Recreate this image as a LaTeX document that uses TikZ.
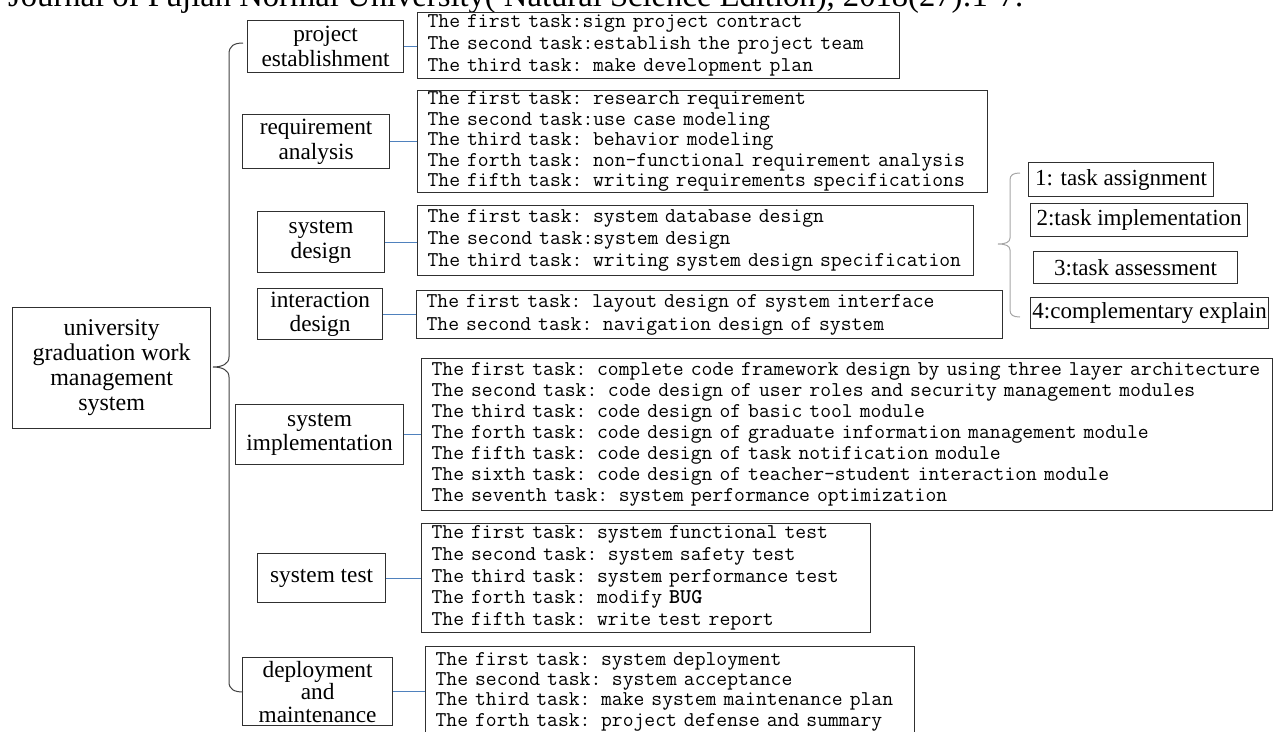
\documentclass[tikz,border=0pt]{standalone}
\usepackage{fontspec}
\setmainfont{Liberation Serif}
\definecolor{boxc}{HTML}{303030}
\definecolor{linkc}{HTML}{4F81BD}
\definecolor{bracec}{HTML}{404040}
\definecolor{sbracec}{HTML}{A6A6A6}
\tikzset{
  cat/.style={draw=boxc, line width=1.2pt, inner sep=0pt, align=center, anchor=north west,
    font=\fontsize{23.3}{24.5}\selectfont},
  subbox/.style={cat, font=\fontsize{23}{24}\selectfont},
  tbox/.style={draw=boxc, line width=1.2pt, inner xsep=10pt, inner ysep=0pt, align=left, anchor=north west},
  link/.style={draw=linkc, line width=1pt},
  bigbrace/.style={draw=bracec, line width=1pt},
  smallbrace/.style={draw=sbracec, line width=1pt},
}
\newcommand{\tfont}[1]{\ttfamily\fontsize{21.05}{#1}\selectfont}
\begin{document}
\begin{tikzpicture}[x=1pt,y=-1pt]
\useasboundingbox (0,0) rectangle (1274,731);

% header (clipped at the top)
\node[anchor=base west, inner sep=0pt, font=\fontsize{29}{30}\selectfont] (hdr) at (8,6)
  {\resizebox{1015pt}{!}{Journal of Fujian Normal University( Natural Science Edition), 2018(27):1-7.}};

% main node
\node[cat, font=\fontsize{24}{25}\selectfont, minimum width=198pt, minimum height=121pt] (root) at (12,307)
  {university\\graduation work\\management\\system};

% category nodes
\node[cat, minimum width=156pt, minimum height=52pt] (pe) at (247,20) {project\\establishment};
\node[cat, minimum width=147pt, minimum height=54pt] (ra) at (242,114) {requirement\\analysis};
\node[cat, minimum width=127pt, minimum height=61pt] (sd) at (257,211) {system\\design};
\node[cat, minimum width=125pt, minimum height=51pt] (id) at (257,288) {interaction\\design};
\node[cat, minimum width=168pt, minimum height=60pt] (si) at (235,404) {system\\implementation};
\node[cat, minimum width=128pt, minimum height=49pt] (st) at (257,553) {system test};
\node[cat, font=\fontsize{23.3}{22.5}\selectfont, minimum width=150pt, minimum height=68pt] (dm) at (242,657)
  {deployment\\and\\maintenance};

% task boxes
\node[tbox, font=\tfont{22}, text width=462pt, minimum height=66pt] (t1) at (417,12)
  {The first task:sign project contract\\The second task:establish the project team\\The third task: make development plan};
\node[tbox, font=\tfont{20.5}, text width=550pt, minimum height=102pt] (t2) at (417,90)
  {The first task: research requirement\\The second task:use case modeling\\The third task: behavior modeling\\The forth task: non-functional requirement analysis\\The fifth task: writing requirements specifications};
\node[tbox, font=\tfont{22}, text width=536pt, minimum height=70pt] (t3) at (417,205)
  {The first task: system database design\\The second task:system design\\The third task: writing system design specification};
\node[tbox, font=\tfont{23}, text width=566pt, minimum height=48pt] (t4) at (416,290)
  {The first task: layout design of system interface\\The second task: navigation design of system};
\node[tbox, font=\tfont{21}, text width=831pt, minimum height=152pt] (t5) at (421,358)
  {The first task: complete code framework design by using three layer architecture\\The second task: code design of user roles and security management modules\\The third task: code design of basic tool module\\The forth task: code design of graduate information management module\\The fifth task: code design of task notification module\\The sixth task: code design of teacher-student interaction module\\The seventh task: system performance optimization};
\node[tbox, font=\tfont{21.7}, text width=429pt, minimum height=109pt] (t6) at (421,523)
  {The first task: system functional test\\The second task: system safety test\\The third task: system performance test\\The forth task: modify \textbf{BUG}\\The fifth task: write test report};
\node[tbox, font=\tfont{20.3}, text width=469pt, minimum height=90pt] (t7) at (425,646)
  {The first task: system deployment\\The second task: system acceptance\\The third task: make system maintenance plan\\The forth task: project defense and summary};

% step boxes
\node[subbox, minimum width=185pt, minimum height=34pt] (s1) at (1028,162) {1: task assignment};
\node[subbox, minimum width=217pt, minimum height=33pt] (s2) at (1030,203) {2:task implementation};
\node[subbox, minimum width=204pt, minimum height=32pt] (s3) at (1033,251) {3:task assessment};
\node[subbox, minimum width=238pt, minimum height=31pt] (s4) at (1030,297) {4:complementary explain};

% connectors
\foreach \a/\b in {pe/t1, ra/t2, sd/t3, id/t4, si/t5, st/t6, dm/t7}
  \draw[link] (\a.east) -- (\a.east -| \b.west);

% big brace
\coordinate (btop) at (243,43);
\coordinate (btip) at (213,367);
\coordinate (bbot) at (243,692);
\draw[bigbrace] (btop) .. controls (234,43) and (229,46) .. (229,54) -- (229,357)
  .. controls (229,364) and (222,367) .. (btip)
  .. controls (222,367) and (229,370) .. (229,377) -- (229,682)
  .. controls (229,689) and (234,692) .. (bbot);

% small brace
\coordinate (stop) at (1020,173);
\coordinate (stip) at (998,244);
\coordinate (sbot) at (1020,317);
\draw[smallbrace] (stop) .. controls (1013,173) and (1010,175) .. (1010,180) -- (1010,238)
  .. controls (1010,242) and (1006,244) .. (stip)
  .. controls (1006,244) and (1010,246) .. (1010,250) -- (1010,310)
  .. controls (1010,315) and (1013,317) .. (sbot);
\end{tikzpicture}
\end{document}
